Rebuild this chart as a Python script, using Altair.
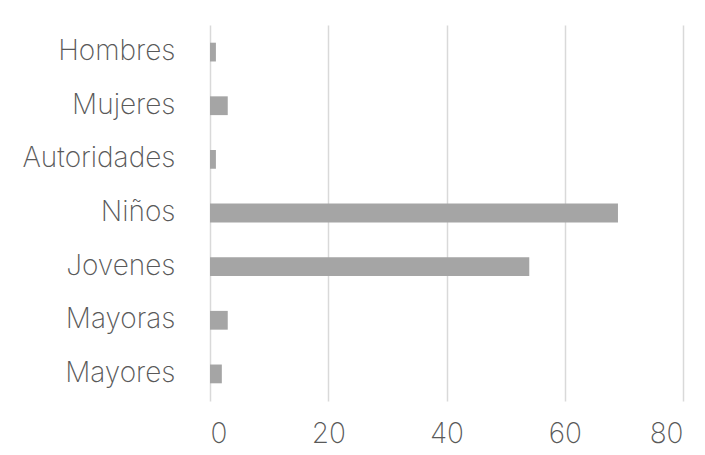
import altair as alt
import pandas as pd

categories = ["Hombres", "Mujeres", "Autoridades", "Niños", "Jovenes", "Mayoras", "Mayores"]
values = [1, 3, 1, 69, 54, 3, 2]
x_ticks = [0, 20, 40, 60, 80]

df = pd.DataFrame({"cat": categories, "val": values})

FONT = "Inter"
chart = alt.Chart(df).mark_bar(color="#a5a5a5").encode(
    x=alt.X("val:Q", scale=alt.Scale(domain=[0, 80], nice=False),
            axis=alt.Axis(values=x_ticks, title=None, grid=True, gridColor="#d9d9d9",
                          gridWidth=1.5, domain=False, ticks=False, labelPadding=19,
                          labelFontSize=28, labelFont=FONT, labelFontWeight=200,
                          labelColor="#595959")),
    y=alt.Y("cat:N", sort=categories, scale=alt.Scale(paddingInner=0.65, paddingOuter=0.33),
            axis=alt.Axis(title=None, domain=False, ticks=False, labelPadding=35,
                          labelFontSize=28, labelFont=FONT, labelFontWeight=200,
                          labelColor="#595959")),
).properties(
    width=473, height=376,
    autosize=alt.AutoSizeParams(type="none"),
    padding={"left": 202, "top": 17, "right": 10, "bottom": 53},
).configure_view(stroke=None)

chart.save("out.html", embed_options={"renderer": "svg", "actions": False})
